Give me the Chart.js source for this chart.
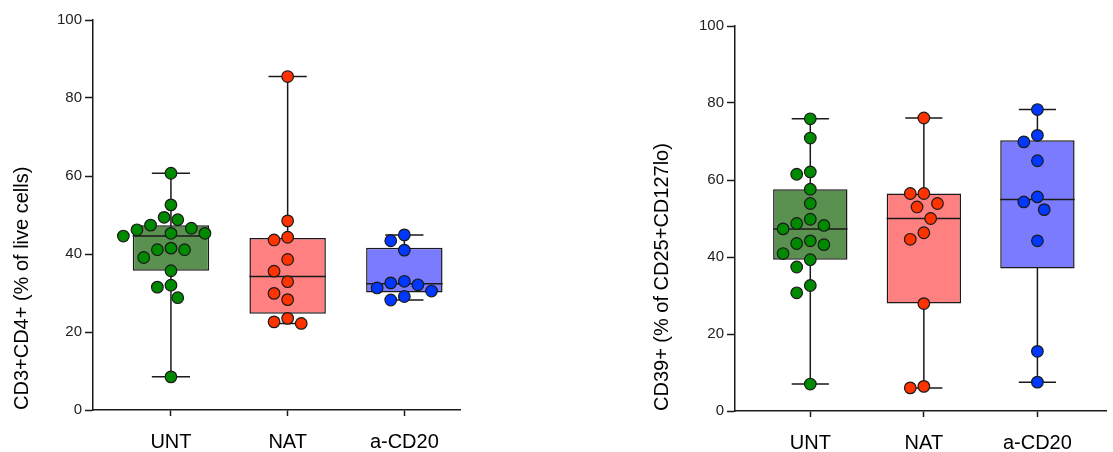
<!DOCTYPE html>
<html>
<head>
<meta charset="utf-8">
<script src="https://cdn.jsdelivr.net/npm/chart.js@4.4.0/dist/chart.umd.min.js"></script>
<style>
  body { margin: 0; background: #fff; }
  .panel { position: absolute; top: 0; height: 452px; }
</style>
</head>
<body>
<div class="panel" style="left:0; width:470px"><canvas id="cd4"></canvas></div>
<div class="panel" style="left:640px; width:473px"><canvas id="cd39"></canvas></div>
<script>
// groups on the x axis
const groups = ['UNT', 'NAT', 'a-CD20'];
const yTicks = [0, 20, 40, 60, 80, 100];

// left panel: CD3+CD4+ (% of live cells)
const cd4Unt = [60.7, 52.6, 49.4, 48.8, 47.4, 46.6, 46.2, 44.6, 45.3, 45.3, 41.1, 41.5, 41.1, 39.1, 35.7, 31.5, 32.0, 28.8, 8.5];
const cd4Nat = [85.5, 48.5, 44.3, 43.6, 38.6, 35.6, 32.9, 29.9, 28.3, 23.5, 22.2, 22.6];
const cd4Acd20 = [44.9, 43.4, 41.0, 33.0, 32.6, 31.3, 30.5, 32.1, 28.2, 29.1];

// right panel: CD39+ (% of CD25+CD127lo)
const cd39Unt = [75.9, 70.9, 61.5, 62.1, 57.6, 53.9, 48.2, 48.7, 49.8, 47.3, 43.5, 43.2, 44.2, 40.9, 39.3, 37.4, 32.6, 30.7, 7.0];
const cd39Nat = [76.1, 56.5, 56.5, 53.0, 53.9, 50.0, 46.3, 44.6, 27.9, 6.0, 6.4];
const cd39Acd20 = [78.3, 71.6, 69.9, 65.0, 54.3, 55.6, 52.3, 44.2, 15.5, 7.5];

const boxFill = ['#5b9150', '#ff8080', '#7b7bff'];
const dotFill = ['#008a00', '#ff3300', '#0038ff'];
const INK = '#1a1a1a';
const DOT_R = 5.8;

Chart.defaults.font.family = 'Arial, "Liberation Sans", sans-serif';
Chart.defaults.color = '#000';

// quartiles like Prism: position p*(n+1)
function quant(s, p) {
  const n = s.length, pos = p * (n + 1);
  if (pos <= 1) return s[0];
  if (pos >= n) return s[n - 1];
  const i = Math.floor(pos), f = pos - i;
  return s[i - 1] + f * (s[i] - s[i - 1]);
}
function boxStats(vals) {
  const s = [...vals].sort((a, b) => a - b);
  return { min: s[0], q1: quant(s, 0.25), med: quant(s, 0.5), q3: quant(s, 0.75), max: s[s.length - 1] };
}

// whiskers under the boxes, median line over them
const boxPlugin = {
  id: 'boxParts',
  beforeDatasetsDraw(chart) {
    const stats = chart.data.datasets[0].stats, xs = chart.scales.x, ys = chart.scales.y;
    const bars = chart.getDatasetMeta(0).data;
    const ctx = chart.ctx;
    ctx.save();
    ctx.strokeStyle = INK;
    ctx.lineWidth = 1.5;
    stats.forEach((s, i) => {
      const x = xs.getPixelForValue(i + 1);
      const cap = bars[i].width / 4;
      const yMin = ys.getPixelForValue(s.min), yMax = ys.getPixelForValue(s.max);
      ctx.beginPath();
      ctx.moveTo(x, yMin); ctx.lineTo(x, yMax);
      ctx.moveTo(x - cap, yMin); ctx.lineTo(x + cap, yMin);
      ctx.moveTo(x - cap, yMax); ctx.lineTo(x + cap, yMax);
      ctx.stroke();
    });
    ctx.restore();
  },
  afterDatasetDraw(chart, args) {
    if (args.index !== 0) return;
    const stats = chart.data.datasets[0].stats, ys = chart.scales.y;
    const bars = chart.getDatasetMeta(0).data;
    const ctx = chart.ctx;
    ctx.save();
    ctx.strokeStyle = INK;
    ctx.lineWidth = 1.5;
    stats.forEach((s, i) => {
      const y = ys.getPixelForValue(s.med);
      ctx.beginPath();
      ctx.moveTo(bars[i].x - bars[i].width / 2, y);
      ctx.lineTo(bars[i].x + bars[i].width / 2, y);
      ctx.stroke();
    });
    ctx.restore();
  }
};

// spread the dots sideways on half-dot slots so they don't overlap
function swarm(chart) {
  const xs = chart.scales.x, ys = chart.scales.y;
  const d = 2 * DOT_R + 2;
  const step = d / 2;
  chart.data.datasets.forEach(ds => {
    if (ds.group === undefined) return;
    const cx = xs.getPixelForValue(ds.group + 1);
    const placed = [];
    const order = ds.values.map((v, i) => i).sort((a, b) => ds.values[b] - ds.values[a]);
    order.forEach(i => {
      const py = ys.getPixelForValue(ds.values[i]);
      const near = placed.filter(p => Math.abs(p.y - py) < d);
      let ox = 0;
      for (let k = 0; k < 40; k++) {
        const tries = k === 0 ? [0] : [-k * step, k * step];
        const ok = tries.find(c => near.every(p => (p.x - c) ** 2 + (p.y - py) ** 2 >= d * d - 0.01));
        if (ok !== undefined) { ox = ok; break; }
      }
      placed.push({ x: ox, y: py });
      ds.data[i] = { x: xs.getValueForPixel(cx + ox), y: ds.values[i] };
    });
  });
  chart.update('none');
}

function makeChart(id, series, title, xMin, xMax, pad, yWidth, xHeight) {
  const stats = series.map(boxStats);
  const chart = new Chart(document.getElementById(id), {
    type: 'bar',
    data: {
      datasets: [
        {
          type: 'bar', order: 2, stats: stats,
          data: stats.map((s, i) => ({ x: i + 1, y: [s.q1, s.q3] })),
          backgroundColor: boxFill, borderColor: INK, borderWidth: 1.5,
          borderSkipped: false, barPercentage: 0.655, categoryPercentage: 1
        },
        ...series.map((vals, i) => ({
          type: 'scatter', order: 1, group: i, values: vals,
          data: vals.map(v => ({ x: i + 1, y: v })),
          pointRadius: DOT_R, pointHoverRadius: DOT_R,
          backgroundColor: dotFill[i], borderColor: INK, borderWidth: 1.2
        }))
      ]
    },
    options: {
      responsive: true, maintainAspectRatio: false, animation: false,
      layout: { padding: pad },
      plugins: { legend: { display: false }, tooltip: { enabled: false } },
      scales: {
        x: {
          type: 'linear', min: xMin, max: xMax, offset: false,
          afterBuildTicks: s => { s.ticks = groups.map((g, i) => ({ value: i + 1 })); },
          afterFit: s => { s.height = xHeight; },
          ticks: { callback: v => groups[v - 1], font: { size: 20 }, padding: 14, maxRotation: 0 },
          grid: { offset: false, drawOnChartArea: false, tickLength: 6, tickWidth: 1.5, color: INK },
          border: { color: INK, width: 1.5 }
        },
        y: {
          min: 0, max: 100,
          afterBuildTicks: s => { s.ticks = yTicks.map(v => ({ value: v })); },
          afterFit: s => { s.width = yWidth; },
          ticks: { font: { size: 15 }, padding: 3, color: '#222' },
          grid: { drawOnChartArea: false, tickLength: 8, tickWidth: 1.5, color: INK },
          border: { color: INK, width: 1.5 },
          title: { display: true, text: title, font: { size: 20 }, align: 'start', padding: { top: 10, bottom: 0 } }
        }
      }
    },
    plugins: [boxPlugin]
  });
  swarm(chart);
  return chart;
}

makeChart('cd4', [cd4Unt, cd4Nat, cd4Acd20], 'CD3+CD4+ (% of live cells)',
  0.332, 3.477, { top: 20, right: 10, bottom: 0, left: 0 }, 93, 42);
makeChart('cd39', [cd39Unt, cd39Nat, cd39Acd20], 'CD39+ (% of CD25+CD127lo)',
  0.337, 3.604, { top: 26, right: 0, bottom: 0, left: 0 }, 95, 41);
</script>
</body>
</html>
